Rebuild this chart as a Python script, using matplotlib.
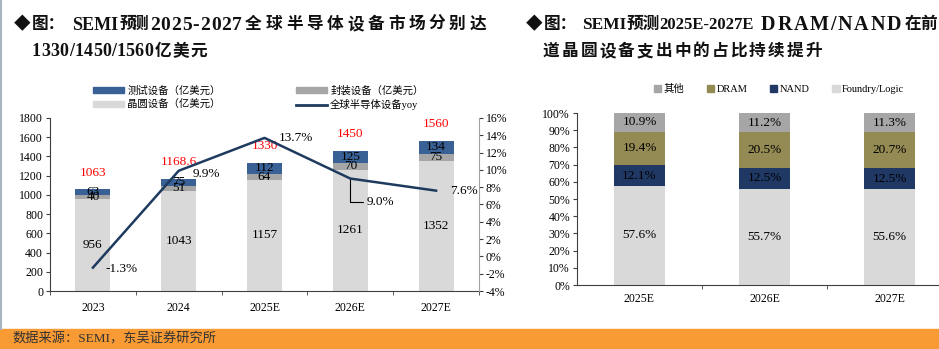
import matplotlib.pyplot as plt
from matplotlib.patches import Patch
from matplotlib.lines import Line2D
import numpy as np

plt.rcParams['font.family'] = ['Liberation Serif', 'Noto Sans CJK SC']

# left chart: global semiconductor equipment market (100M USD)
years = ["2023", "2024", "2025E", "2026E", "2027E"]
wafer = [956, 1043, 1157, 1261, 1352]
packaging = [40, 51, 64, 70, 75]
testing = [63, 75, 112, 125, 134]
totals = ["1063", "1168.6", "1330", "1450", "1560"]
yoy = [-1.3, 9.9, 13.7, 9.0, 7.6]

# right chart: share of front-end wafer equipment spending (%)
share_years = ["2025E", "2026E", "2027E"]
foundry = [57.6, 55.7, 55.6]
nand = [12.1, 12.5, 12.5]
dram = [19.4, 20.5, 20.7]
other = [10.9, 11.2, 11.3]

C_TEST = "#3A6195"
C_PACK = "#A6A6A6"
C_WAFER = "#D9D9D9"
C_LINE = "#1F3A5F"
C_DRAM = "#948A54"
C_NAND = "#1F3864"

W, H = 939, 349
fig = plt.figure(figsize=(W / 100, H / 100), dpi=100)
fig.patch.set_facecolor("white")
renderer = fig.canvas.get_renderer()


def box(l, t, r, b):
    return [l / W, 1 - b / H, (r - l) / W, (b - t) / H]


def tkw(size):
    return dict(fontsize=size, fontweight="bold", va="center", color="#111111")


def put(x, y, s, size=12):
    fig.text(x / W, 1 - y / H, s, **tkw(size))


def track(x0, x1, y, s, size=12):
    # justified run: natural advances from prefix widths plus an even extra gap
    probe = fig.text(0, 0, "", **tkw(size))
    starts = []
    for k in range(len(s)):
        probe.set_text(s[:k] + "|")
        starts.append(probe.get_window_extent(renderer).width)
    probe.set_text("|")
    wbar = probe.get_window_extent(renderer).width
    starts = [v - wbar for v in starts]
    probe.set_text(s)
    total = probe.get_window_extent(renderer).width
    probe.remove()
    gap = (x1 - x0 - total) / max(len(s) - 1, 1)
    for k, ch in enumerate(s):
        fig.text((x0 + starts[k] + k * gap) / W, 1 - y / H, ch, **tkw(size))


# titles
put(14, 25, "◆")
put(32, 25, "图：")
put(72, 25, "SEMI", 13)
track(120, 148, 25, "预测")
track(150, 242, 25, "2025-2027", 14)
track(245, 486, 25, "全球半导体设备市场分别达")
track(32, 153, 52, "1330/1450/1560", 13)
track(155, 207, 52, "亿美元")

put(526, 25, "◆")
put(544, 25, "图：")
put(582, 25, "SEMI", 12.5)
put(627, 25, "预测")
put(659, 25, "2025E-2027E", 12)
track(761, 901, 25, "DRAM/NAND", 14.5)
track(905, 937, 25, "在前")
track(543, 822, 52, "道晶圆设备支出中的占比持续提升")

# ---- left chart ----
ax = fig.add_axes(box(50, 118, 479, 291))
x = np.arange(len(years))
bw = 0.41
b1 = np.array(wafer)
b2 = b1 + np.array(packaging)
ax.bar(x, wafer, bw, color=C_WAFER, zorder=2)
ax.bar(x, packaging, bw, bottom=b1, color=C_PACK, zorder=2)
ax.bar(x, testing, bw, bottom=b2, color=C_TEST, zorder=2)
for i in range(len(years)):
    ax.text(x[i], wafer[i] / 2, str(wafer[i]), ha="center", va="center", fontsize=9.5, zorder=4)
    ax.text(x[i], b1[i] + packaging[i] / 2, str(packaging[i]), ha="center", va="center", fontsize=9.5, zorder=4)
    ax.text(x[i], b2[i] + testing[i] / 2, str(testing[i]), ha="center", va="center", fontsize=9.5, zorder=4)
    ax.annotate(totals[i], (x[i], b2[i] + testing[i]), xytext=(0, 12), textcoords="offset points",
                ha="center", va="center", color="red", fontsize=9.5, zorder=4)
ax.set_xlim(-0.5, 4.5)
ax.set_ylim(0, 1800)
ax.set_yticks(range(0, 1801, 200))
ax.set_xticks(x)
ax.set_xticklabels(years)
ax.set_xticks(np.arange(-0.5, 4.6, 1), minor=True)
ax.tick_params(axis="x", which="major", length=0, pad=8)
ax.tick_params(axis="x", which="minor", length=3, color="#404040")
ax.tick_params(axis="y", length=3, labelsize=8.5, color="#404040", pad=2)
ax.tick_params(axis="x", labelsize=8.5)
ax.spines["top"].set_visible(False)
ax.spines["right"].set_visible(False)
ax.spines["left"].set_color("#404040")
ax.spines["bottom"].set_color("#404040")

ax2 = ax.twinx()
ax2.plot(x, yoy, color=C_LINE, lw=1.8, zorder=5)
ax2.set_ylim(-4, 16)
ax2.set_yticks(range(-4, 17, 2))
ax2.set_yticklabels([f"{v}%" for v in range(-4, 17, 2)])
ax2.tick_params(axis="y", length=3, labelsize=8.5, color="#404040", pad=2)
ax2.spines["top"].set_visible(False)
ax2.spines["left"].set_visible(False)
ax2.spines["bottom"].set_visible(False)
ax2.spines["right"].set_color("#A0A0A0")
offsets = [(9, -1), (10, -2), (10, 0), (12, -17), (10, 0)]
for i, v in enumerate(yoy):
    if i == 3:
        ax2.annotate(f"{v:.1f}%", (x[i], v), xytext=offsets[i], textcoords="offset points",
                     ha="left", va="center", fontsize=9.5,
                     arrowprops=dict(arrowstyle="-", color="black", lw=0.8, shrinkA=1, shrinkB=0,
                                     connectionstyle="angle,angleA=0,angleB=90,rad=0"))
    else:
        ax2.annotate(f"{v:.1f}%", (x[i], v), xytext=offsets[i], textcoords="offset points",
                     ha="left", va="center", fontsize=9.5)

handles = [Patch(color=C_TEST), Patch(color=C_WAFER), Patch(color=C_PACK),
           Line2D([], [], color=C_LINE, lw=2)]
labels = ["测试设备（亿美元）", "晶圆设备（亿美元）", "封装设备（亿美元）", "全球半导体设备yoy"]
fig.legend(handles, labels, ncol=2, loc="center left", bbox_to_anchor=(93 / W, 1 - 98 / H),
           frameon=False, fontsize=7.5, handlelength=3.0, handleheight=0.45, handletextpad=0.3,
           columnspacing=7.2, labelspacing=0.35, borderpad=0, borderaxespad=0)

# ---- right chart ----
rx = fig.add_axes(box(577, 113, 952, 285))
xs = np.arange(len(share_years))
rw = 0.41
s1 = np.array(foundry)
s2 = s1 + np.array(nand)
s3 = s2 + np.array(dram)
rx.bar(xs, foundry, rw, color=C_WAFER, zorder=2)
rx.bar(xs, nand, rw, bottom=s1, color=C_NAND, zorder=2)
rx.bar(xs, dram, rw, bottom=s2, color=C_DRAM, zorder=2)
rx.bar(xs, other, rw, bottom=s3, color=C_PACK, zorder=2)
for i in range(len(share_years)):
    for bottom, val in [(0, foundry[i]), (s1[i], nand[i]), (s2[i], dram[i]), (s3[i], other[i])]:
        rx.text(xs[i], bottom + val / 2, f"{val:.1f}%", ha="center", va="center", fontsize=9.5, zorder=4)
rx.set_xlim(-0.5, 2.5)
rx.set_ylim(0, 100)
rx.set_yticks(range(0, 101, 10))
rx.set_yticklabels([f"{v}%" for v in range(0, 101, 10)])
rx.set_xticks(xs)
rx.set_xticklabels(share_years)
rx.set_xticks([0.5, 1.5], minor=True)
rx.tick_params(axis="x", which="major", length=0, pad=6, labelsize=8.5)
rx.tick_params(axis="x", which="minor", length=3, color="#404040")
rx.tick_params(axis="y", length=3, labelsize=8.5, color="#404040", pad=2)
rx.spines["top"].set_visible(False)
rx.spines["right"].set_visible(False)
rx.spines["left"].set_color("#404040")
rx.spines["bottom"].set_color("#404040")

rh = [Patch(color=C_PACK), Patch(color=C_DRAM), Patch(color=C_NAND), Patch(color=C_WAFER)]
rl = ["其他", "DRAM", "NAND", "Foundry/Logic"]
fig.legend(rh, rl, ncol=4, loc="center left", bbox_to_anchor=(654 / W, 1 - 89 / H),
           frameon=False, fontsize=7.5, handlelength=0.7, handleheight=0.7, handletextpad=0.2,
           columnspacing=2.2, borderpad=0, borderaxespad=0)

# footer band and left border
fig.add_artist(plt.Rectangle((0, 0), 1, 20 / H, transform=fig.transFigure, color="#F89B35", zorder=0))
fig.add_artist(Line2D([1 / W, 1 / W], [20 / H, 1], transform=fig.transFigure, color="#A9B4C2", lw=1.5))
fig.text(12 / W, 10 / H, "数据来源：SEMI，东吴证券研究所", fontsize=9.5, va="center", color="#333333")

fig.savefig("out.png", dpi=100)
